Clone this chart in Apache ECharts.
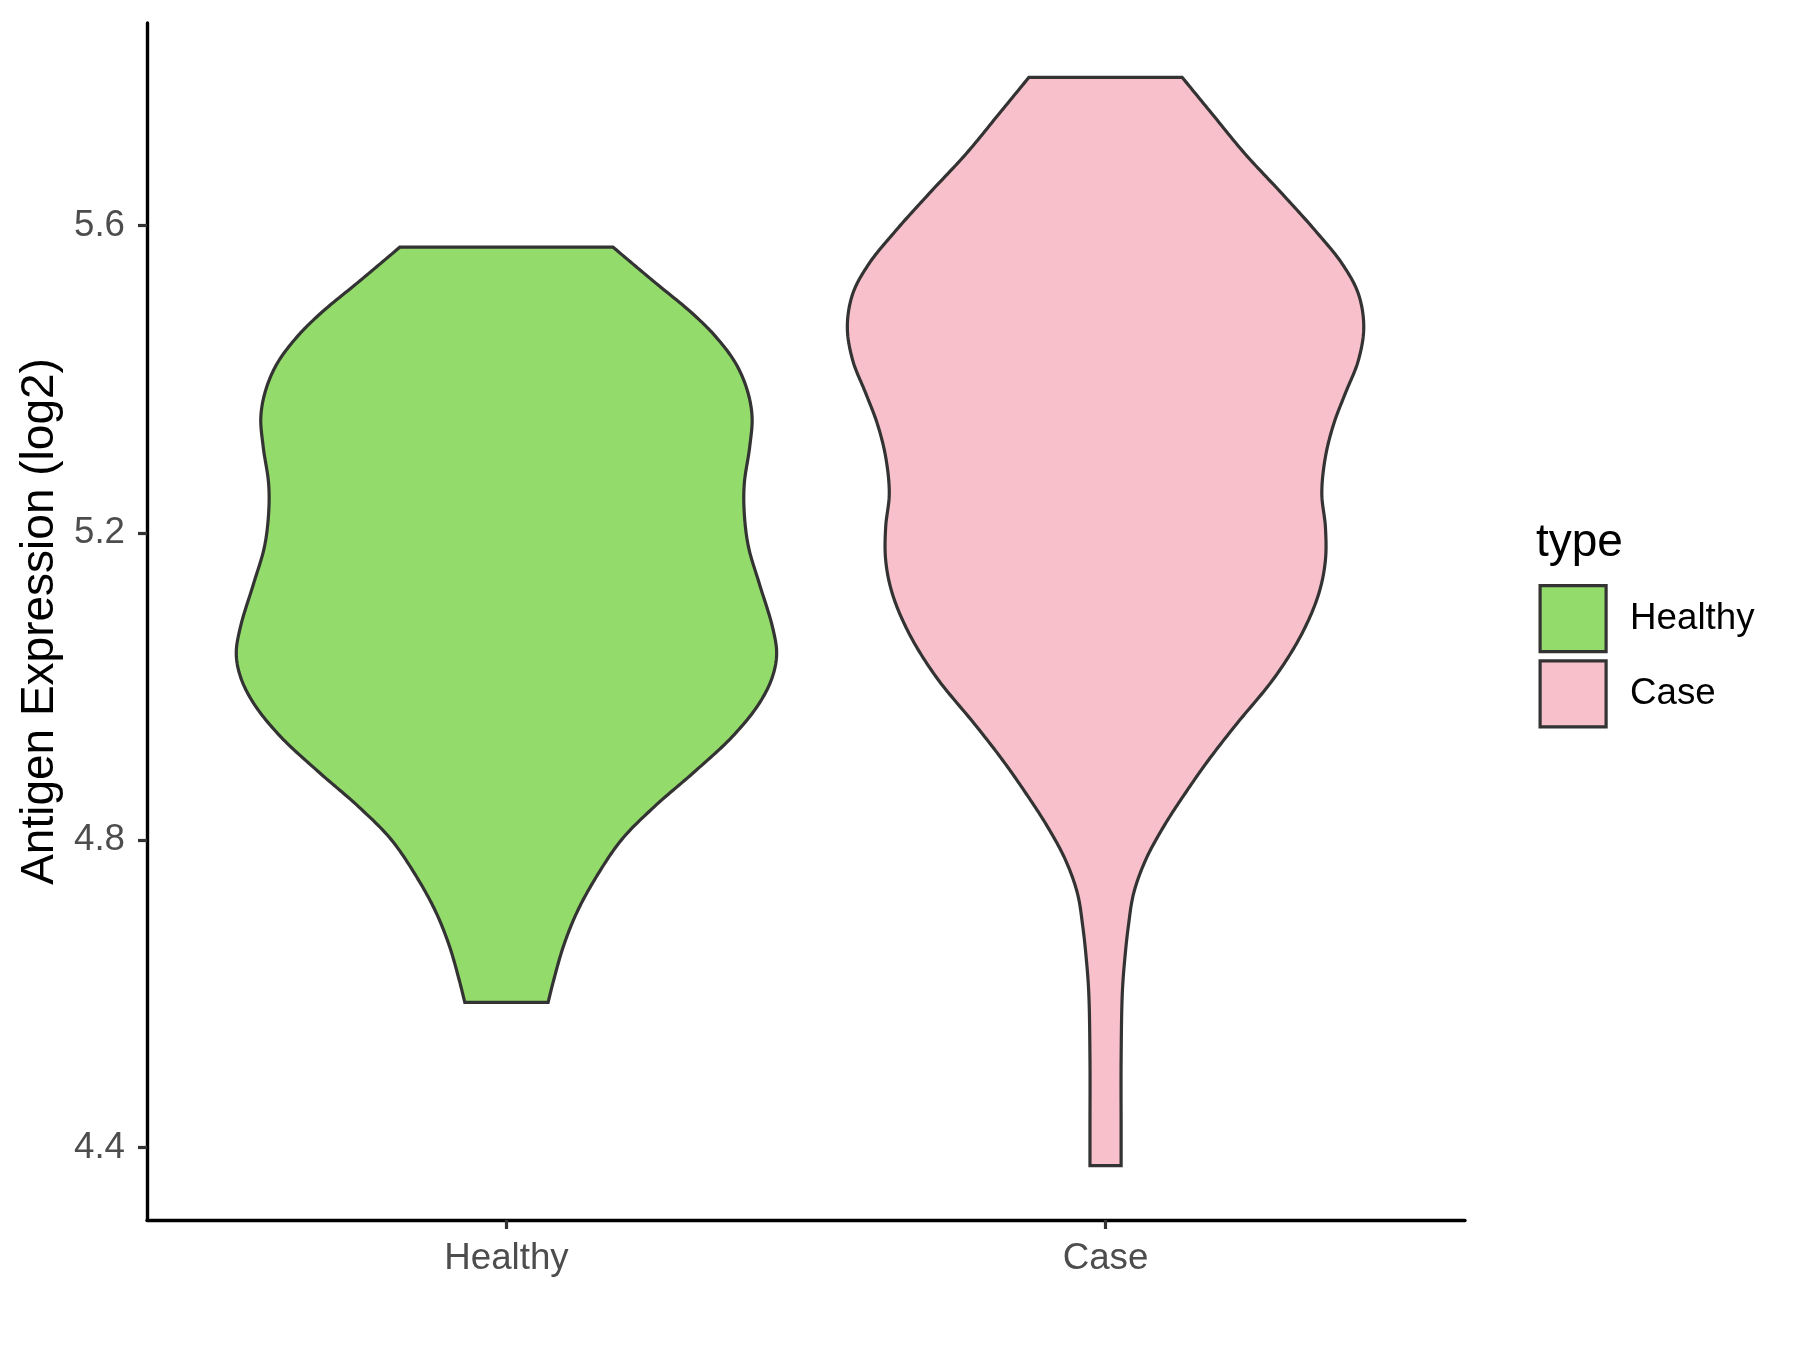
<!DOCTYPE html>
<html>
<head>
<meta charset="utf-8">
<script src="https://cdn.jsdelivr.net/npm/echarts@6/dist/echarts.min.js"></script>
<style>
html,body{margin:0;padding:0;background:#fff;}
#chart{width:1800px;height:1350px;}
</style>
</head>
<body>
<div id="chart"></div>
<script>
// ---- data ----
const categories = ['Healthy', 'Case'];
const yTicks = [4.4, 4.8, 5.2, 5.6];
const fillColors = ['#93DB6A', '#F7C0CB'];

// violin outlines: y value and half-width (fraction of one category unit), top to bottom
const healthyY = [5.5718, 5.5285, 5.4852, 5.4548, 5.4202, 5.3855, 5.3508, 5.3118, 5.2642, 5.2252, 5.1818, 5.1342, 5.0778, 5.0432, 5.0128, 4.9782, 4.9348, 4.8872, 4.8438, 4.8005, 4.7485, 4.7052, 4.6618, 4.6185, 4.5890];
const healthyHalfWidth = [0.178, 0.244, 0.311, 0.350, 0.383, 0.402, 0.410, 0.406, 0.397, 0.397, 0.404, 0.422, 0.444, 0.451, 0.444, 0.422, 0.377, 0.311, 0.247, 0.192, 0.147, 0.117, 0.095, 0.079, 0.0695];

const caseY = [5.7928, 5.7452, 5.6932, 5.6412, 5.5935, 5.5502, 5.5112, 5.4678, 5.4245, 5.3812, 5.3422, 5.2988, 5.2512, 5.2078, 5.1645, 5.1212, 5.0692, 5.0128, 4.9478, 4.9045, 4.8612, 4.8178, 4.7745, 4.7312, 4.6878, 4.6445, 4.6012, 4.5145, 4.4278, 4.3766];
const caseHalfWidth = [0.128, 0.178, 0.233, 0.295, 0.350, 0.395, 0.422, 0.431, 0.422, 0.400, 0.381, 0.367, 0.361, 0.367, 0.367, 0.356, 0.328, 0.283, 0.215, 0.172, 0.133, 0.097, 0.067, 0.047, 0.038, 0.032, 0.028, 0.026, 0.026, 0.026];

const violins = [
  { name: categories[0], pos: 1, ys: healthyY, ws: healthyHalfWidth, color: fillColors[0] },
  { name: categories[1], pos: 2, ys: caseY, ws: caseHalfWidth, color: fillColors[1] }
];

// y range with 5% expansion like ggplot
const allY = healthyY.concat(caseY);
const yMinD = Math.min.apply(null, allY), yMaxD = Math.max.apply(null, allY);
const yPad = (yMaxD - yMinD) * 0.05;

// centripetal Catmull-Rom smoothing of a pixel polyline (rendering only)
function spline(pts, steps) {
  const n = pts.length;
  const ext = [
    [2 * pts[0][0] - pts[1][0], 2 * pts[0][1] - pts[1][1]]
  ].concat(pts, [[2 * pts[n - 1][0] - pts[n - 2][0], 2 * pts[n - 1][1] - pts[n - 2][1]]]);
  const out = [];
  const lerp = (a, b, ta, tb, t) => {
    const d = tb - ta;
    if (d < 1e-9) return a;
    return [((tb - t) * a[0] + (t - ta) * b[0]) / d, ((tb - t) * a[1] + (t - ta) * b[1]) / d];
  };
  const knot = (a, b) => Math.pow(Math.hypot(b[0] - a[0], b[1] - a[1]), 0.5) || 1e-4;
  for (let i = 1; i < ext.length - 2; i++) {
    const p0 = ext[i - 1], p1 = ext[i], p2 = ext[i + 1], p3 = ext[i + 2];
    const t0 = 0, t1 = t0 + knot(p0, p1), t2 = t1 + knot(p1, p2), t3 = t2 + knot(p2, p3);
    for (let s = 0; s < steps; s++) {
      const t = t1 + (t2 - t1) * s / steps;
      const A1 = lerp(p0, p1, t0, t1, t), A2 = lerp(p1, p2, t1, t2, t), A3 = lerp(p2, p3, t2, t3, t);
      const B1 = lerp(A1, A2, t0, t2, t), B2 = lerp(A2, A3, t1, t3, t);
      out.push(lerp(B1, B2, t1, t2, t));
    }
  }
  out.push(pts[n - 1]);
  return out;
}

function makeSeries(v) {
  return {
    name: v.name,
    type: 'custom',
    coordinateSystem: 'cartesian2d',
    itemStyle: { color: v.color },
    encode: { x: 0, y: 1 },
    data: [[v.pos, v.ys[0]]],
    renderItem: function (params, api) {
      const right = v.ys.map((y, i) => api.coord([v.pos + v.ws[i], y]));
      const left = v.ys.map((y, i) => api.coord([v.pos - v.ws[i], y]));
      const r = spline(right, 14);
      const l = spline(left, 14).reverse();
      return {
        type: 'polygon',
        shape: { points: r.concat(l) },
        style: { fill: v.color, stroke: '#333333', lineWidth: 3.2, lineJoin: 'miter' }
      };
    }
  };
}

const chart = echarts.init(document.getElementById('chart'), null, { renderer: 'canvas' });
const FONT = '"Liberation Sans", Arial, Helvetica, sans-serif';

chart.setOption({
  animation: false,
  backgroundColor: '#ffffff',
  title: {
    text: 'type',
    left: 1536,
    top: 520,
    padding: 0,
    textStyle: { fontFamily: FONT, fontSize: 46, fontWeight: 'normal', color: '#000000' }
  },
  legend: {
    orient: 'vertical',
    left: 1538.5,
    top: 584,
    padding: 0,
    itemWidth: 66,
    itemHeight: 66,
    itemGap: 6,
    selectedMode: false,
    textStyle: { fontFamily: FONT, fontSize: 36.7, color: '#000000', padding: [0, 0, 0, 19] },
    data: violins.map(v => ({
      name: v.name,
      icon: 'rect',
      itemStyle: { color: v.color, borderColor: '#333333', borderWidth: 3.2 }
    }))
  },
  grid: { left: 147, right: 335, top: 23, bottom: 130, containLabel: false },
  xAxis: {
    type: 'value',
    min: 0.4,
    max: 2.6,
    axisLine: { show: true, onZero: false, lineStyle: { color: '#000000', width: 3.4 } },
    axisTick: { show: true, customValues: [1, 2], length: 9, lineStyle: { color: '#333333', width: 3.2 } },
    axisLabel: {
      customValues: [1, 2],
      margin: 20,
      fontFamily: FONT, fontSize: 36.7, color: '#4D4D4D',
      formatter: function (val) { return categories[Math.round(val) - 1] || ''; }
    },
    splitLine: { show: false }
  },
  yAxis: {
    type: 'value',
    min: yMinD - yPad,
    max: yMaxD + yPad,
    name: 'Antigen Expression (log2)',
    nameLocation: 'middle',
    nameGap: 80,
    nameRotate: 90,
    nameTextStyle: { fontFamily: FONT, fontSize: 46, color: '#000000' },
    axisLine: { show: true, onZero: false, lineStyle: { color: '#000000', width: 3.4 } },
    axisTick: { show: true, customValues: yTicks, length: 9, lineStyle: { color: '#333333', width: 3.2 } },
    axisLabel: {
      customValues: yTicks,
      margin: 22,
      fontFamily: FONT, fontSize: 36.7, color: '#4D4D4D',
      formatter: function (val) { return val.toFixed(1); }
    },
    splitLine: { show: false }
  },
  series: violins.map(makeSeries)
});
</script>
</body>
</html>
